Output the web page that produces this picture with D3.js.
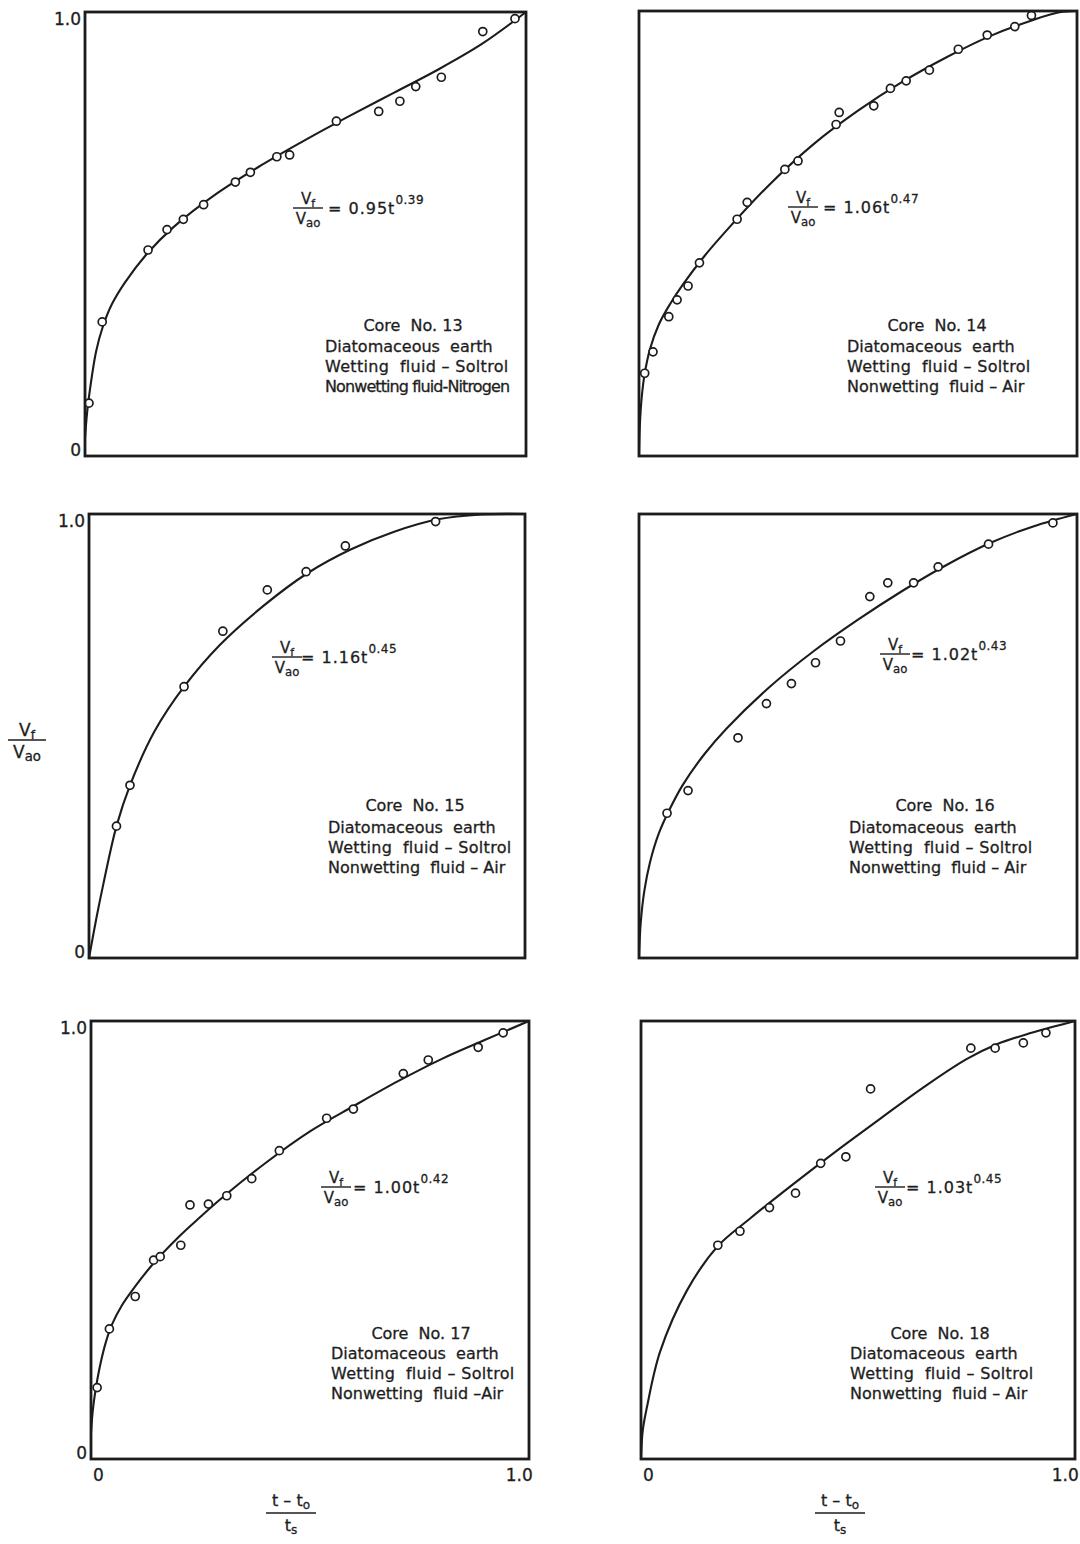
<!DOCTYPE html>
<html>
<head>
<meta charset="utf-8">
<script src="https://cdn.jsdelivr.net/npm/d3@7"></script>
<style>
  html, body { margin: 0; padding: 0; background: #fff; }
  svg { display: block; }
  text { font-family: "DejaVu Sans", "Noto Sans", sans-serif; fill: #1e1e1e; stroke: #1e1e1e; stroke-width: 0.3px; }
</style>
</head>
<body>
<svg id="fig" width="1080" height="1544"></svg>
<script>
// Imbibition data, fraction of fluid taken up vs. dimensionless time, cores 13-18
const coreNumbers = ["13", "14", "15", "16", "17", "18"];
const coefficients = ["0.95", "1.06", "1.16", "1.02", "1.00", "1.03"];
const exponents = ["0.39", "0.47", "0.45", "0.43", "0.42", "0.45"];
const nonwettingLines = [
  "Nonwetting fluid-Nitrogen",
  "Nonwetting  fluid – Air",
  "Nonwetting  fluid – Air",
  "Nonwetting  fluid – Air",
  "Nonwetting  fluid –Air",
  "Nonwetting  fluid – Air"
];
const wettingLines = [
  "Wetting  fluid – Soltrol",
  "Wetting  fluid – Soltrol",
  "Wetting  fluid – Soltrol",
  "Wetting  fluid – Soltrol",
  "Wetting  fluid – Soltrol",
  "Wetting  fluid – Soltrol"
];
const mediumLabel = "Diatomaceous  earth";
const tickValues = [0, 1];
const tickLabels = ["0", "1.0"];

// measured points [t, Vf/Vao]
const core13Points = [[0.009,0.119],[0.039,0.302],[0.143,0.464],[0.186,0.510],[0.223,0.533],[0.269,0.566],[0.341,0.617],[0.375,0.639],[0.435,0.674],[0.464,0.678],[0.570,0.754],[0.666,0.776],[0.714,0.799],[0.750,0.832],[0.808,0.853],[0.902,0.956],[0.975,0.985]];
const core14Points = [[0.013,0.186],[0.032,0.234],[0.068,0.313],[0.087,0.351],[0.112,0.382],[0.138,0.434],[0.224,0.532],[0.247,0.570],[0.333,0.644],[0.363,0.663],[0.450,0.745],[0.457,0.772],[0.536,0.787],[0.574,0.826],[0.610,0.843],[0.663,0.867],[0.729,0.914],[0.795,0.946],[0.858,0.965],[0.896,0.990]];
const core15Points = [[0.063,0.297],[0.094,0.389],[0.218,0.611],[0.307,0.736],[0.409,0.829],[0.498,0.870],[0.588,0.928],[0.795,0.983]];
const core16Points = [[0.064,0.326],[0.112,0.377],[0.226,0.496],[0.291,0.573],[0.348,0.618],[0.403,0.665],[0.460,0.714],[0.527,0.814],[0.568,0.845],[0.627,0.845],[0.683,0.881],[0.798,0.932],[0.945,0.980]];
const core17Points = [[0.014,0.163],[0.042,0.297],[0.101,0.371],[0.143,0.454],[0.158,0.462],[0.205,0.488],[0.226,0.580],[0.268,0.582],[0.310,0.601],[0.367,0.640],[0.430,0.704],[0.538,0.778],[0.599,0.799],[0.713,0.880],[0.770,0.911],[0.884,0.940],[0.941,0.973]];
const core18Points = [[0.177,0.488],[0.228,0.520],[0.296,0.574],[0.356,0.607],[0.414,0.675],[0.472,0.690],[0.529,0.845],[0.760,0.938],[0.816,0.938],[0.881,0.950],[0.933,0.973]];

// fitted curves, traced as [t, Vf/Vao]
const core13Curve = [[0,0.04],[0.005,0.10],[0.012,0.155],[0.025,0.235],[0.04,0.29],[0.06,0.34],[0.09,0.39],[0.14,0.455],[0.2,0.515],[0.3,0.592],[0.4,0.655],[0.5,0.712],[0.6,0.766],[0.7,0.818],[0.8,0.87],[0.9,0.928],[1.0,1.0]];
const core14Curve = [[0,0],[0.002,0.07],[0.006,0.13],[0.013,0.185],[0.025,0.24],[0.045,0.295],[0.07,0.34],[0.1,0.385],[0.15,0.45],[0.2,0.507],[0.3,0.612],[0.4,0.702],[0.5,0.776],[0.6,0.84],[0.7,0.895],[0.8,0.943],[0.9,0.98],[0.96,0.997],[1.0,1.0]];
const core15Curve = [[0,0],[0.017,0.09],[0.033,0.167],[0.063,0.297],[0.094,0.389],[0.15,0.51],[0.218,0.611],[0.3,0.705],[0.4,0.793],[0.5,0.866],[0.6,0.92],[0.7,0.96],[0.8,0.988],[0.9,0.999],[1.0,1.0]];
const core16Curve = [[0,0],[0.004,0.08],[0.012,0.15],[0.025,0.215],[0.045,0.28],[0.07,0.335],[0.1,0.39],[0.15,0.46],[0.2,0.517],[0.3,0.612],[0.4,0.692],[0.5,0.762],[0.6,0.826],[0.7,0.884],[0.8,0.934],[0.9,0.972],[1.0,1.0]];
const core17Curve = [[0,0.06],[0.004,0.11],[0.01,0.155],[0.02,0.21],[0.032,0.26],[0.047,0.305],[0.07,0.35],[0.1,0.393],[0.143,0.447],[0.2,0.507],[0.25,0.553],[0.3,0.597],[0.4,0.677],[0.5,0.748],[0.6,0.806],[0.7,0.862],[0.8,0.913],[0.9,0.957],[1.0,1.0]];
const core18Curve = [[0,0],[0.004,0.065],[0.014,0.12],[0.044,0.245],[0.106,0.385],[0.177,0.486],[0.25,0.548],[0.35,0.627],[0.45,0.703],[0.55,0.776],[0.65,0.848],[0.75,0.913],[0.82,0.947],[0.9,0.973],[1.0,1.0]];

const pointSets = [core13Points, core14Points, core15Points, core16Points, core17Points, core18Points];
const curveSets = [core13Curve, core14Curve, core15Curve, core16Curve, core17Curve, core18Curve];

// page layout: frame box, equation anchor, label block anchor for each panel
const layout = [
  { x0: 85,  x1: 526,  y0: 12,   y1: 456,  eqCx: 308, eqY: 208,  eqX: 328, tCx: 413, tY: 325,  lX: 325, lY: 346,  yAxis: true,  xAxis: false },
  { x0: 639, x1: 1077, y0: 11,   y1: 456,  eqCx: 803, eqY: 207,  eqX: 823, tCx: 937, tY: 325,  lX: 847, lY: 346,  yAxis: false, xAxis: false },
  { x0: 89,  x1: 525,  y0: 514,  y1: 958,  eqCx: 287, eqY: 657,  eqX: 301, tCx: 415, tY: 805,  lX: 328, lY: 827,  yAxis: true,  xAxis: false },
  { x0: 639, x1: 1077, y0: 514,  y1: 958,  eqCx: 895, eqY: 654,  eqX: 911, tCx: 945, tY: 805,  lX: 849, lY: 827,  yAxis: false, xAxis: false },
  { x0: 91,  x1: 529,  y0: 1021, y1: 1459, eqCx: 336, eqY: 1187, eqX: 353, tCx: 421, tY: 1333, lX: 331, lY: 1353, yAxis: true,  xAxis: true },
  { x0: 641, x1: 1075, y0: 1021, y1: 1459, eqCx: 890, eqY: 1187, eqX: 906, tCx: 940, tY: 1333, lX: 850, lY: 1353, yAxis: false, xAxis: true }
];

const svg = d3.select("#fig");
const ink = "#1c1c1c";

// V_f over V_ao stacked ratio
function drawRatio(g, cx, ly, fs, half) {
  const num = g.append("text").attr("x", cx).attr("y", ly - 4)
    .attr("text-anchor", "middle").style("font-size", fs + "px");
  num.append("tspan").text("V");
  num.append("tspan").attr("dy", 3).style("font-size", (fs * 0.72) + "px").text("f");
  g.append("line").attr("x1", cx - half).attr("x2", cx + half)
    .attr("y1", ly).attr("y2", ly).attr("stroke", ink).attr("stroke-width", 1.4);
  const den = g.append("text").attr("x", cx).attr("y", ly + fs + 1)
    .attr("text-anchor", "middle").style("font-size", fs + "px");
  den.append("tspan").text("V");
  den.append("tspan").attr("dy", 3).style("font-size", (fs * 0.78) + "px").text("ao");
}

layout.forEach((L, i) => {
  const x = d3.scaleLinear().domain([0, 1]).range([L.x0, L.x1]);
  const y = d3.scaleLinear().domain([0, 1]).range([L.y1, L.y0]);
  const g = svg.append("g");

  // fitted curve
  const line = d3.line().x(d => x(d[0])).y(d => y(d[1])).curve(d3.curveCatmullRom.alpha(0.5));
  g.append("path").datum(curveSets[i]).attr("d", line)
    .attr("fill", "none").attr("stroke", ink).attr("stroke-width", 2.1);

  // open-circle data points
  g.selectAll("circle.pt").data(pointSets[i]).join("circle")
    .attr("class", "pt")
    .attr("cx", d => x(d[0])).attr("cy", d => y(d[1])).attr("r", 4)
    .attr("fill", "#fff").attr("stroke", ink).attr("stroke-width", 1.7);

  // frame
  g.append("rect").attr("x", L.x0).attr("y", L.y0)
    .attr("width", L.x1 - L.x0).attr("height", L.y1 - L.y0)
    .attr("fill", "none").attr("stroke", ink).attr("stroke-width", 2.8);

  // y tick labels
  if (L.yAxis) {
    const ay = g.append("g").attr("transform", `translate(${L.x0},0)`)
      .call(d3.axisLeft(y).tickValues(tickValues).tickSize(0).tickPadding(4)
        .tickFormat((d, k) => tickLabels[k]));
    ay.select(".domain").remove();
    ay.selectAll("text").style("font-size", "17px").style("font-family", null)
      .attr("fill", null)
      .attr("dy", (d) => d === 1 ? "0.72em" : "-0.02em");
  }
  // x tick labels
  if (L.xAxis) {
    const ax = g.append("g").attr("transform", `translate(0,${L.y1})`)
      .call(d3.axisBottom(x).tickValues(tickValues).tickSize(0).tickPadding(10)
        .tickFormat((d, k) => tickLabels[k]));
    ax.select(".domain").remove();
    ax.selectAll("text").style("font-size", "17px").style("font-family", null)
      .attr("fill", null)
      .attr("dx", d => d === 0 ? "0.4em" : "-0.6em");
  }

  // equation
  drawRatio(g, L.eqCx, L.eqY, 15, 15);
  const eq = g.append("text").attr("x", L.eqX).attr("y", L.eqY + 6)
    .style("font-size", "16px").style("letter-spacing", "1px");
  eq.append("tspan").text("= " + coefficients[i] + "t");
  eq.append("tspan").attr("dy", -10).style("font-size", "12px").style("letter-spacing", "0.5px").text(exponents[i]);

  // core description block
  g.append("text").attr("x", L.tCx).attr("y", L.tY + 6).attr("text-anchor", "middle")
    .style("font-size", "16px").style("white-space", "pre").text("Core  No. " + coreNumbers[i]);
  const rows = [mediumLabel, wettingLines[i], nonwettingLines[i]];
  rows.forEach((r, k) => {
    const t = g.append("text").attr("x", L.lX).attr("y", L.lY + 6 + k * 20)
      .style("font-size", "16px").style("white-space", "pre").text(r);
    if (r.indexOf("Nitrogen") >= 0) t.style("letter-spacing", "-0.9px");
    else if (k === 1) t.style("letter-spacing", "0.3px");
  });
});

// axis titles
const yTitle = svg.append("g");
drawRatio(yTitle, 27, 740, 17, 19);

function drawTimeRatio(cx, ly) {
  const g = svg.append("g");
  const num = g.append("text").attr("x", cx).attr("y", ly - 7).attr("text-anchor", "middle")
    .style("font-size", "16px").style("white-space", "pre");
  num.append("tspan").text("t – t");
  num.append("tspan").attr("dy", 3).style("font-size", "12px").text("o");
  g.append("line").attr("x1", cx - 25).attr("x2", cx + 25).attr("y1", ly).attr("y2", ly)
    .attr("stroke", ink).attr("stroke-width", 1.5);
  const den = g.append("text").attr("x", cx).attr("y", ly + 18).attr("text-anchor", "middle")
    .style("font-size", "16px");
  den.append("tspan").text("t");
  den.append("tspan").attr("dy", 3).style("font-size", "12px").text("s");
}
drawTimeRatio(291, 1513);
drawTimeRatio(840, 1513);
</script>
</body>
</html>
